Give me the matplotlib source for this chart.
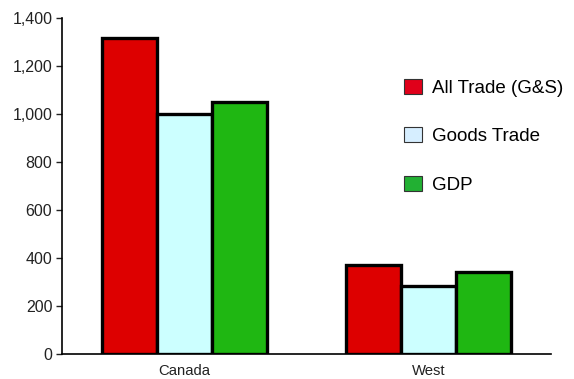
import numpy as np
import matplotlib.pyplot as plt
from matplotlib.patches import Patch
from matplotlib.ticker import FuncFormatter

plt.rcParams['font.family'] = ['Liberation Sans', 'DejaVu Sans']

regions = ['Canada', 'West']
series_names = ['All Trade (G&S)', 'Goods Trade', 'GDP']
all_trade = [1317, 371]
goods_trade = [1000, 283]
gdp = [1052, 340]

bar_colors = ['#DD0000', '#CCFFFF', '#1FB712']
legend_colors = ['#E0001A', '#D6EEFF', '#22B033']

fig = plt.figure(figsize=(5.74, 3.79), dpi=100)
ax = fig.add_axes([62 / 574, 25 / 379, 489 / 574, 336 / 379])

x = np.arange(len(regions))
width = 0.225
for i, vals in enumerate([all_trade, goods_trade, gdp]):
    ax.bar(x + (i - 1) * width, vals, width, color=bar_colors[i],
           edgecolor='black', linewidth=2.4, zorder=3)

ax.set_xlim(-0.5, 1.5)
ax.set_ylim(0, 1400)
ax.set_yticks(range(0, 1401, 200))
ax.yaxis.set_major_formatter(FuncFormatter(lambda v, p: f'{int(v):,}'))
ax.set_xticks(x)
ax.set_xticklabels(regions)
ax.tick_params(axis='x', length=0, pad=7, labelsize=10.7, colors='#222222')
ax.tick_params(axis='y', length=4, width=1, pad=3, labelsize=11.5, colors='#222222')
for s in ['top', 'right']:
    ax.spines[s].set_visible(False)
for s in ['left', 'bottom']:
    ax.spines[s].set_linewidth(1.2)
ax.spines['bottom'].set_zorder(4)

handles = [Patch(facecolor=c, edgecolor='#333333', linewidth=0.8) for c in legend_colors]
fig.legend(handles, series_names, loc='upper left', bbox_to_anchor=(389 / 574, 1 - 64 / 379),
           frameon=False, fontsize=13.5, handlelength=0.95, handleheight=0.85,
           handletextpad=0.55, labelspacing=1.62, borderpad=0.3)

fig.savefig('out.png', dpi=100, facecolor='white')
